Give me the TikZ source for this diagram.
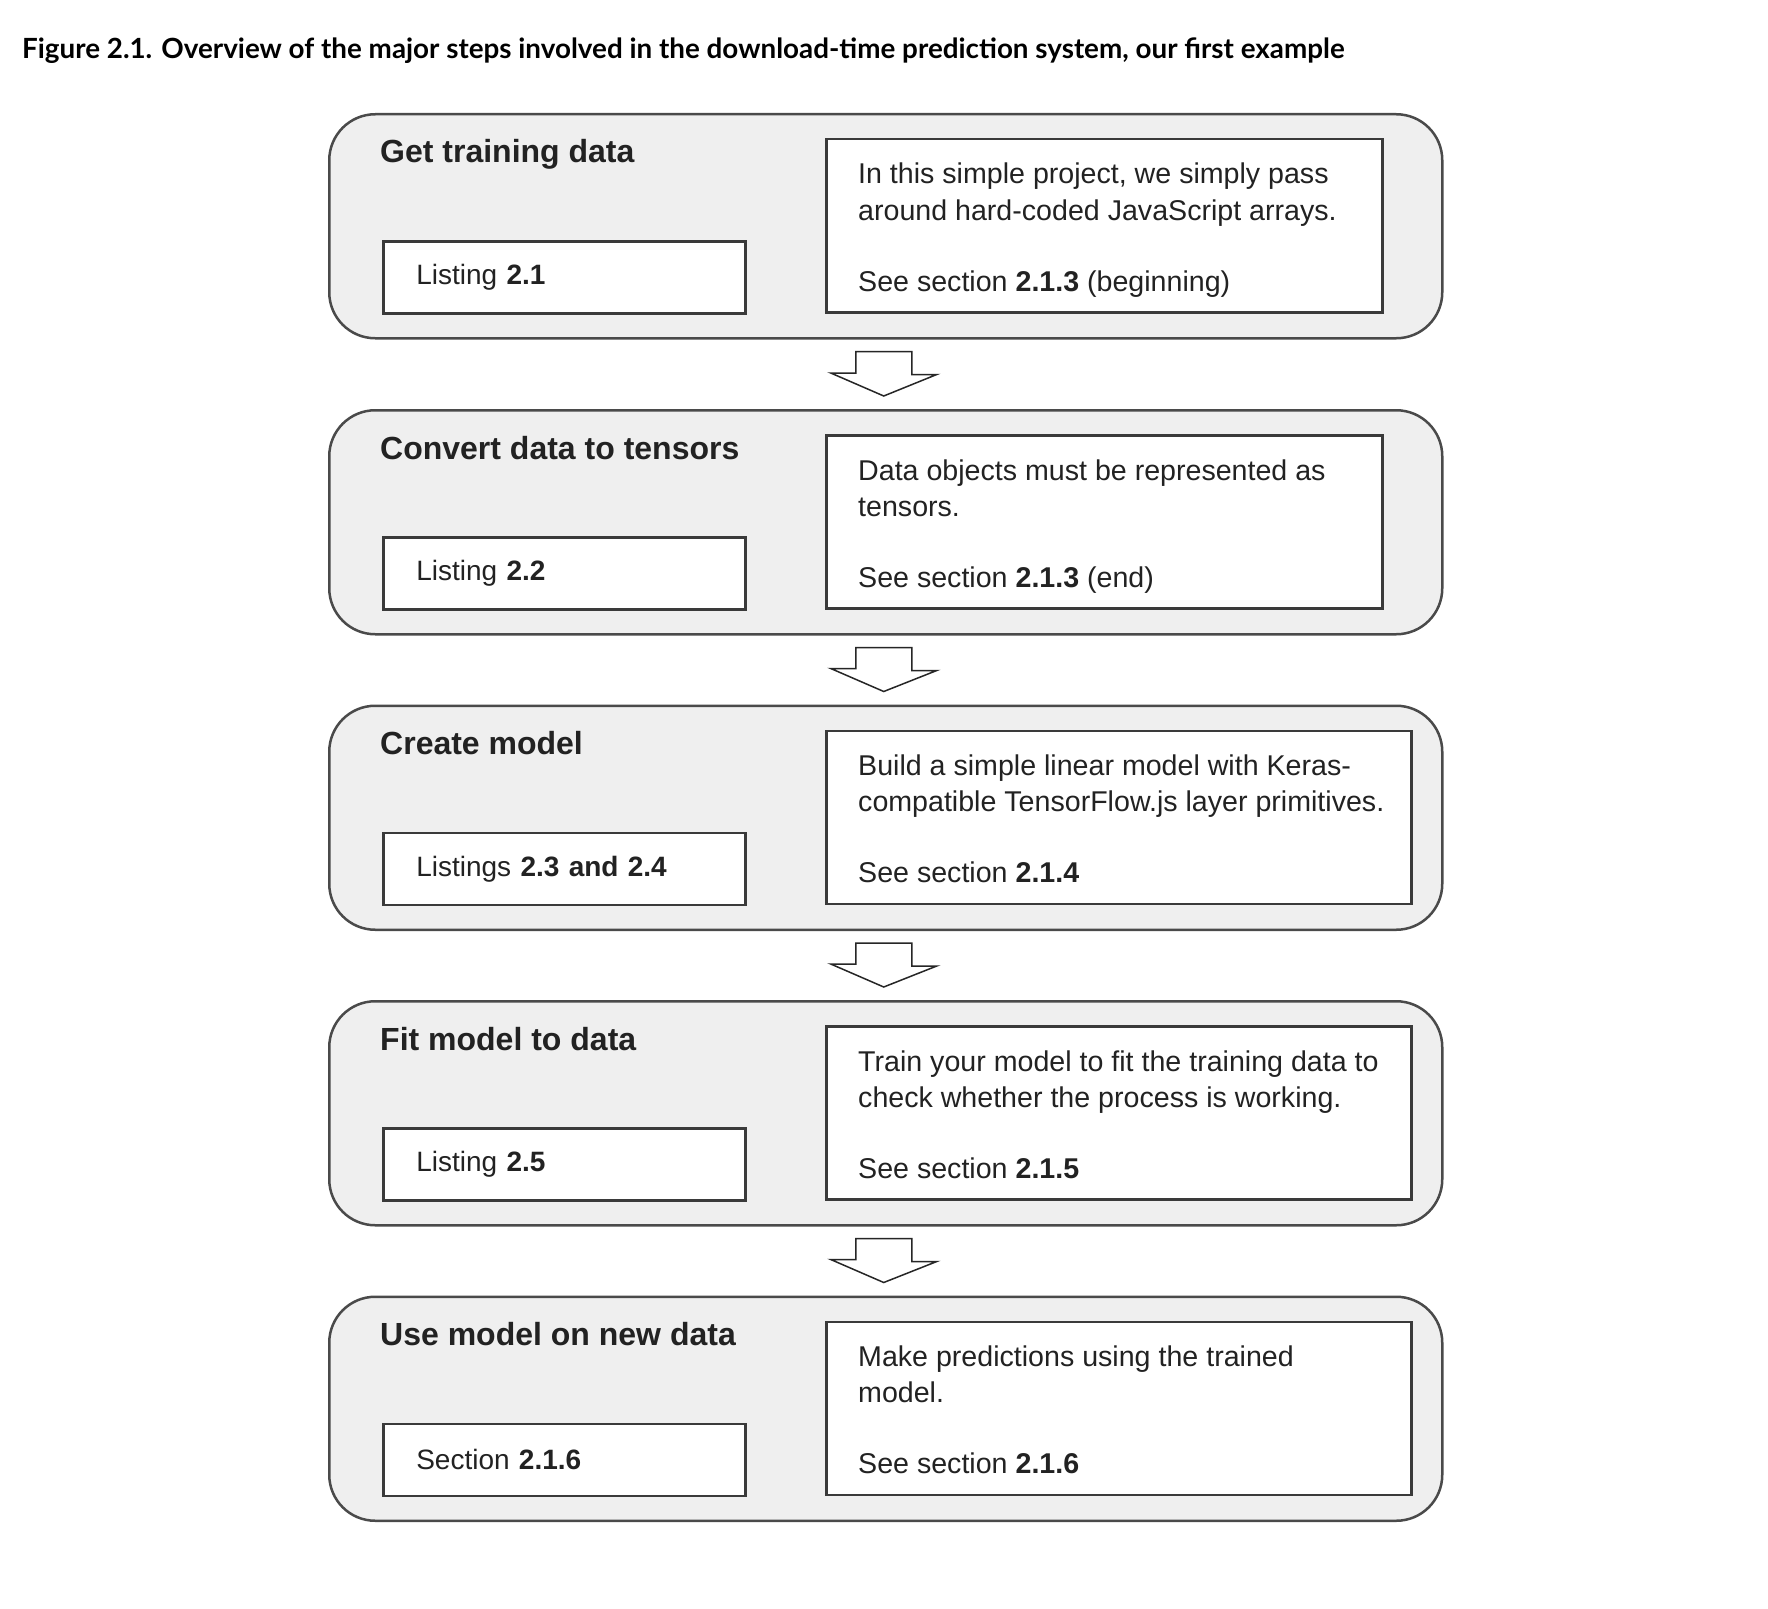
\documentclass[tikz,border=0pt]{standalone}
\usepackage{fontspec}
\setmainfont{Liberation Sans}
\newfontfamily\capfont{Lato}
\usetikzlibrary{calc}
\definecolor{stagefill}{HTML}{EFEFEF}
\definecolor{stageline}{HTML}{4A4A4A}
\definecolor{boxline}{HTML}{3A3A3A}
\definecolor{txt}{HTML}{222222}
\tikzset{
  stage/.style={draw=stageline, fill=stagefill, line width=2.5pt, rounded corners=46pt,
    minimum width=1113pt, minimum height=224pt, inner sep=0pt, anchor=north west},
  stagetitle/.style={text=txt, inner sep=0pt, font=\fontsize{32pt}{38pt}\selectfont\bfseries},
  lbox/.style={draw=boxline, fill=white, line width=2.5pt, minimum width=362pt, minimum height=72pt,
    text width=296pt, inner xsep=33pt, inner ysep=0pt, align=left, anchor=north west,
    text=txt, font=\fontsize{28pt}{35pt}\selectfont},
  rbox/.style={draw=boxline, fill=white, line width=2.5pt, minimum height=173pt, inner sep=0pt, anchor=north west},
  rtext/.style={text=txt, inner sep=0pt, anchor=base west, font=\fontsize{28.6pt}{35pt}\selectfont},
  captext/.style={inner sep=0pt, anchor=base west, text=black, font=\capfont\fontsize{27.8pt}{32pt}\selectfont\bfseries},
  flowarrow/.style={draw=black!85, fill=white, line width=1.5pt, line join=miter}
}
\newcommand\stagerow[8]{%
  \node[stage] (s#1) at (328,#2) {};
  \node[stagetitle, anchor=base west] (t#1) at ($(s#1.north west)+(52,50)$) {#3};
  \node[lbox] (l#1) at ($(s#1.north west)+(54,127)$) {#4};
  \node[rbox, minimum width=#8] (r#1) at ($(s#1.north west)+(497,25)$) {};
  \node[rtext] (ra#1) at ($(r#1.north west)+(33,46)$) {#5};
  \node[rtext] (rb#1) at ($(r#1.north west)+(33,82)$) {#6};
  \node[rtext] (rc#1) at ($(r#1.north west)+(33,153)$) {#7};
}
\newcommand\stagearrow[2]{%
  \coordinate (top#1) at ($(s#1.south)+(-2,12)$);
  \coordinate (tip#1) at ($(s#2.north)+(-2,-13)$);
  \draw[flowarrow] ($(top#1)+(-28,0)$) -- ++(56,0) -- ++(0,23) -- ++(25,0) -- (tip#1)
    -- ++(-53,-23) -- ++(25,0) -- cycle;
}
\begin{document}
\begin{tikzpicture}[x=1pt,y=-1pt]
\useasboundingbox[fill=white] (0,0) rectangle (1768,1608);
\node[captext] (cap) at (22,59) {Figure 2.1. Overview of the major steps involved in the download-time prediction system, our first example};

\stagerow{1}{113}{Get training data}{Listing \textbf{2.1}}{In this simple project, we simply pass}{around hard-coded JavaScript arrays.}{See section \textbf{2.1.3} (beginning)}{556pt}
\stagerow{2}{409}{Convert data to tensors}{Listing \textbf{2.2}}{Data objects must be represented as}{tensors.}{See section \textbf{2.1.3} (end)}{556pt}
\stagerow{3}{704.5}{Create model}{Listings \textbf{2.3 and 2.4}}{Build a simple linear model with Keras-}{compatible TensorFlow.js layer primitives.}{See section \textbf{2.1.4}}{585pt}
\stagerow{4}{1000}{Fit model to data}{Listing \textbf{2.5}}{Train your model to fit the training data to}{check whether the process is working.}{See section \textbf{2.1.5}}{585pt}
\stagerow{5}{1295.5}{Use model on new data}{Section \textbf{2.1.6}}{Make predictions using the trained}{model.}{See section \textbf{2.1.6}}{585pt}

\stagearrow{1}{2}
\stagearrow{2}{3}
\stagearrow{3}{4}
\stagearrow{4}{5}
\end{tikzpicture}
\end{document}
